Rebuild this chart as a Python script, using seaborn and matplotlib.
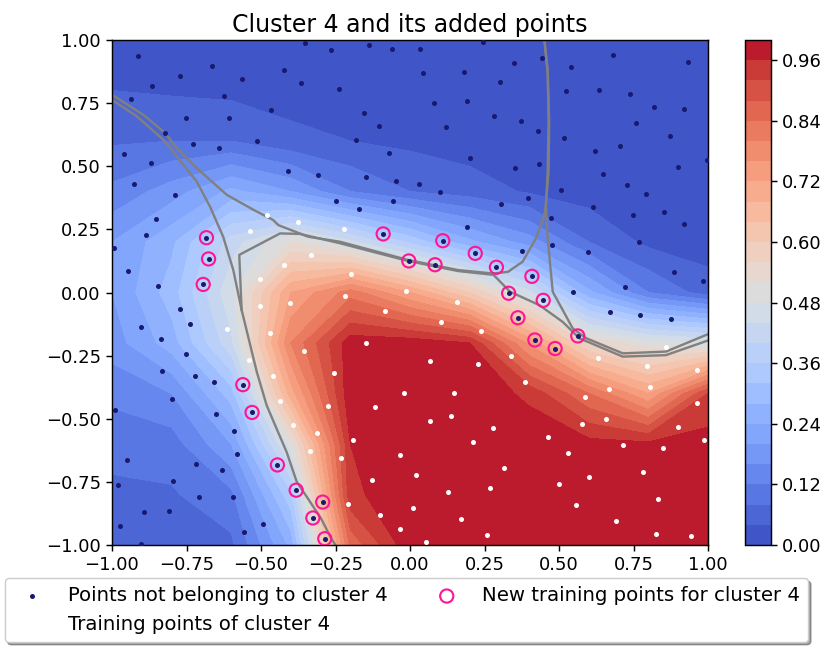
import numpy as np
import matplotlib
matplotlib.use("Agg")
import matplotlib.pyplot as plt
import seaborn as sns

# ---------------- data ----------------
grid_x = [-1.0, -0.8, -0.6, -0.4, -0.2, 0.0, 0.2, 0.4, 0.6, 0.8, 1.0]
grid_y = [1.0, 0.8, 0.6, 0.4, 0.2, 0.0, -0.2, -0.4, -0.6, -0.8, -1.0]
# probability of belonging to cluster 4 (rows follow grid_y, top to bottom)
prob_rows = [
    [0.03, 0.03, 0.02, 0.02, 0.02, 0.02, 0.02, 0.02, 0.02, 0.02, 0.02],
    [0.04, 0.035, 0.03, 0.025, 0.02, 0.02, 0.02, 0.02, 0.02, 0.02, 0.02],
    [0.075, 0.08, 0.08, 0.05, 0.04, 0.03, 0.02, 0.02, 0.02, 0.02, 0.02],
    [0.13, 0.18, 0.25, 0.20, 0.12, 0.08, 0.06, 0.035, 0.02, 0.02, 0.02],
    [0.20, 0.27, 0.42, 0.52, 0.45, 0.35, 0.25, 0.18, 0.08, 0.03, 0.02],
    [0.20, 0.30, 0.47, 0.72, 0.82, 0.72, 0.60, 0.45, 0.25, 0.12, 0.06],
    [0.18, 0.26, 0.43, 0.80, 0.985, 0.985, 0.96, 0.75, 0.55, 0.50, 0.48],
    [0.13, 0.16, 0.30, 0.70, 0.99, 0.99, 0.99, 0.95, 0.84, 0.72, 0.92],
    [0.095, 0.10, 0.20, 0.50, 0.96, 0.99, 0.99, 0.99, 0.975, 0.97, 0.98],
    [0.07, 0.075, 0.11, 0.35, 0.95, 0.99, 0.99, 0.99, 0.99, 0.99, 0.99],
    [0.06, 0.065, 0.07, 0.25, 0.85, 0.99, 0.99, 0.99, 0.99, 0.99, 0.99],
]

other_x = [-0.351, -0.913, -0.665, -0.423, -0.771, -0.565, -0.866, -0.366, -0.936, -0.623, -0.465, -0.751,
           -0.609, -0.821, -0.727, -0.641, -0.513, -0.961, -0.870, -0.408, -0.927, -0.790,
           -0.265, -0.137, -0.060, 0.035, 0.244, 0.044, 0.182, 0.301, -0.237, 0.082, 0.192, 0.282,
           -0.155, -0.103, 0.120, -0.180, -0.070, 0.201, -0.308, -0.147, -0.047, 0.030, 0.102,
           -0.247, -0.056, 0.306, -0.171,
           0.349, 0.444, 0.539, 0.682, 0.934, 0.525, 0.634, 0.738, 0.820, 0.920, 0.372, 0.430,
           0.516, 0.758, 0.872, 0.620, 0.706, 0.997, 0.353, 0.434, 0.900, 0.649, 0.729, 0.506,
           0.396, 0.792, 0.615,
           0.748, 0.853, 0.920, 0.473, 0.478, 0.377, 0.596, 0.767, 0.887, 0.982, 0.720, 0.548,
           0.672, 0.772, 0.877, 0.192,
           -0.851, -0.885, -0.993, -0.946, -0.846, -0.771, -0.737, -0.904, -0.837, -0.751,
           -0.832, -0.722,
           -0.657, -0.799, -0.990, -0.652, -0.590, -0.580, -0.951, -0.717, -0.632, -0.794,
           -0.980, -0.708, -0.594, -0.808, -0.894, -0.494, -0.974, -0.556, -0.903]
other_y = [0.987, 0.937, 0.897, 0.880, 0.857, 0.847, 0.818, 0.830, 0.768, 0.780, 0.723, 0.690,
           0.690, 0.633, 0.588, 0.571, 0.599, 0.549, 0.514, 0.481, 0.431, 0.386,
           0.959, 0.981, 0.964, 0.964, 0.992, 0.869, 0.875, 0.835, 0.807, 0.750, 0.757, 0.700,
           0.711, 0.661, 0.655, 0.604, 0.554, 0.531, 0.464, 0.459, 0.442, 0.431, 0.397,
           0.362, 0.362, 0.352, 0.332,
           0.909, 0.930, 0.892, 0.942, 0.914, 0.797, 0.802, 0.785, 0.733, 0.728, 0.678, 0.638,
           0.610, 0.671, 0.621, 0.559, 0.581, 0.526, 0.492, 0.509, 0.497, 0.469, 0.425, 0.407,
           0.373, 0.391, 0.340,
           0.307, 0.319, 0.273, 0.295, 0.188, 0.166, 0.160, 0.199, 0.081, 0.047, 0.021, 0.002,
           -0.077, -0.088, -0.105, 0.261,
           0.290, 0.227, 0.177, 0.086, 0.026, -0.065, -0.126, -0.138, -0.183, -0.245,
           -0.311, -0.332,
           -0.353, -0.421, -0.465, -0.483, -0.550, -0.640, -0.662, -0.678, -0.702, -0.747,
           -0.764, -0.809, -0.809, -0.864, -0.871, -0.916, -0.926, -0.949, -0.995]

new_x = [-0.683, -0.676, -0.694, -0.090, 0.110, 0.219, -0.004, 0.084, 0.290, 0.409, 0.331, 0.447,
         0.362, 0.419, 0.487, 0.563, -0.561, -0.530, -0.445, -0.382, -0.293, -0.326, -0.286]
new_y = [0.217, 0.133, 0.032, 0.232, 0.205, 0.155, 0.125, 0.110, 0.100, 0.064, -0.003, -0.031,
         -0.100, -0.188, -0.222, -0.172, -0.365, -0.475, -0.683, -0.783, -0.830, -0.893, -0.975]

train_x = [-0.479, -0.375, -0.537, -0.332, -0.423, -0.503, -0.404, -0.503, -0.613, -0.470, -0.355,
           -0.541, -0.459,
           -0.223, -0.199, -0.218, -0.013, -0.084, 0.159, 0.105, 0.239, -0.147, 0.068, 0.229, -0.256,
           0.339, 0.630, 0.796, 0.963, 0.859,
           -0.437, -0.394, -0.337,
           -0.019, 0.149, -0.274, -0.117, 0.139, 0.068, 0.277, -0.313, -0.190, 0.210, -0.233, -0.032,
           0.315, 0.020, -0.128, 0.267, 0.129, -0.208, 0.011, -0.100, 0.172, -0.032, 0.258, 0.054,
           0.387, 0.586, 0.668, 0.805, 0.962, 0.578, 0.658, 0.900, 0.988, 0.463, 0.715, 0.529,
           0.848, 0.601, 0.782, 0.501, 0.833, 0.558, 0.691, 0.824, 0.944]
train_y = [0.307, 0.279, 0.245, 0.147, 0.108, 0.053, -0.043, -0.053, -0.145, -0.160, -0.233,
           -0.267, -0.330,
           0.250, 0.075, -0.015, 0.007, -0.072, -0.038, -0.117, -0.151, -0.200, -0.273, -0.284, -0.319,
           -0.251, -0.258, -0.291, -0.307, -0.217,
           -0.431, -0.526, -0.629,
           -0.398, -0.398, -0.448, -0.453, -0.488, -0.510, -0.538, -0.555, -0.583, -0.593, -0.657,
           -0.645, -0.696, -0.724, -0.741, -0.774, -0.791, -0.836, -0.853, -0.883, -0.898, -0.938,
           -0.960, -0.988,
           -0.353, -0.415, -0.381, -0.376, -0.438, -0.522, -0.500, -0.533, -0.583, -0.572, -0.605,
           -0.634, -0.617, -0.729, -0.712, -0.758, -0.819, -0.843, -0.904, -0.955, -0.966]

# decision boundaries of the clusters (grey lines)
bound_a_x = [-1.0, -0.895, -0.822, -0.783, -0.716, -0.615, -0.526, -0.459, -0.442, -0.342, -0.235,
             -0.007, 0.161, 0.280, 0.329, 0.378, 0.423, 0.451, 0.456, 0.465, 0.467, 0.462, 0.451]
bound_a_y = [0.783, 0.704, 0.632, 0.572, 0.493, 0.387, 0.328, 0.287, 0.267, 0.221, 0.201,
             0.129, 0.089, 0.075, 0.082, 0.122, 0.215, 0.307, 0.347, 0.480, 0.678, 0.876, 1.0]
bound_b_x = [-1.0, -0.917, -0.822, -0.761, -0.716, -0.671, -0.627, -0.593, -0.565, -0.514, -0.481,
             -0.414, -0.380, -0.342, -0.298, -0.264, -0.250]
bound_b_y = [0.763, 0.698, 0.599, 0.506, 0.440, 0.340, 0.221, 0.089, -0.069, -0.315, -0.447,
             -0.632, -0.750, -0.817, -0.896, -0.975, -1.0]
bound_c_x = [0.451, 0.462, 0.465, 0.462, 0.456, 0.462, 0.479, 0.546, 0.591, 0.714, 0.859, 1.0]
bound_c_y = [1.0, 0.876, 0.678, 0.480, 0.347, 0.215, 0.003, -0.142, -0.181, -0.241, -0.234, -0.165]
bound_4_x = [-0.565, -0.573, -0.436, -0.369, -0.235, -0.007, 0.161, 0.280, 0.336, 0.434, 0.512,
             0.568, 0.714, 0.859, 1.0]
bound_4_y = [-0.069, 0.149, 0.234, 0.232, 0.195, 0.125, 0.085, 0.070, 0.003, -0.050, -0.116,
             -0.181, -0.254, -0.248, -0.190]

levels = [i * 0.04 for i in range(26)]
cbar_ticks = [0.0, 0.12, 0.24, 0.36, 0.48, 0.60, 0.72, 0.84, 0.96]
axis_ticks = [-1.0, -0.75, -0.5, -0.25, 0.0, 0.25, 0.5, 0.75, 1.0]

# ---------------- figure ----------------
S = 1.3
plt.rcParams.update({
    "font.size": 10 * S,
    "xtick.major.size": 3.5 * S, "ytick.major.size": 3.5 * S,
    "xtick.major.width": 0.8 * S, "ytick.major.width": 0.8 * S,
    "axes.linewidth": 0.8 * S,
})

fig = plt.figure(figsize=(8.30, 6.48), dpi=100)
W, H = 830, 648
ax = fig.add_axes([112 / W, (H - 545) / H, 596 / W, 505 / H])
cax = fig.add_axes([745 / W, (H - 545) / H, 26 / W, 505 / H])

X, Y = np.meshgrid(np.array(grid_x), np.array(grid_y))
Z = np.array(prob_rows)
cf = ax.contourf(X, Y, Z, levels=levels, cmap="coolwarm", vmin=0, vmax=1)

for bx, by in [(bound_a_x, bound_a_y), (bound_b_x, bound_b_y),
               (bound_c_x, bound_c_y), (bound_4_x, bound_4_y)]:
    ax.plot(bx, by, color="grey", lw=1.7, zorder=2)

all_other_x = other_x + new_x
all_other_y = other_y + new_y
sns.scatterplot(x=all_other_x, y=all_other_y, ax=ax, color="midnightblue", s=13,
                linewidth=0, label="Points not belonging to cluster 4", zorder=3)
sns.scatterplot(x=train_x, y=train_y, ax=ax, color="white", s=13,
                linewidth=0, label="Training points of cluster 4", zorder=3)
sns.scatterplot(x=new_x, y=new_y, ax=ax, color="none", edgecolor="deeppink", s=90,
                linewidth=1.5, label="New training points for cluster 4", zorder=4)

ax.set_xlim(-1, 1)
ax.set_ylim(-1, 1)
ax.set_xticks(axis_ticks)
ax.set_yticks(axis_ticks)
ax.set_xticklabels([f"{t:.2f}".replace("-", "\u2212") for t in axis_ticks])
ax.set_yticklabels([f"{t:.2f}".replace("-", "\u2212") for t in axis_ticks])
ax.set_title("Cluster 4 and its added points", fontsize=17)

cb = fig.colorbar(cf, cax=cax, ticks=cbar_ticks)
cb.ax.set_yticklabels([f"{t:.2f}" for t in cbar_ticks])

ax.legend(loc="upper center", bbox_to_anchor=(0.494, -0.066), borderaxespad=0, ncol=2,
          shadow=True, fancybox=True, fontsize=14.2)

fig.savefig("out.png", dpi=100)
